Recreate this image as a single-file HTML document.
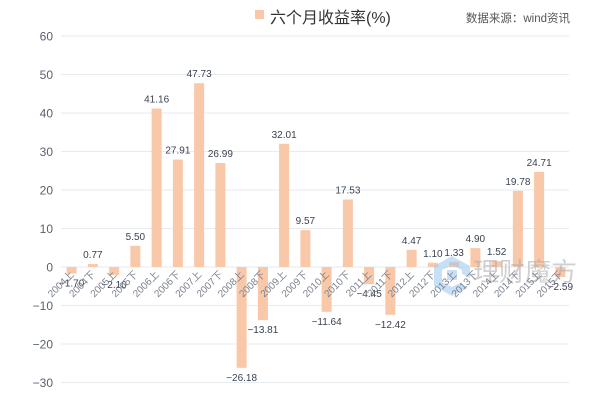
<!DOCTYPE html>
<html><head><meta charset="utf-8"><style>
body{margin:0;background:#fff;}
svg{display:block;font-family:"Liberation Sans","Noto Sans CJK SC",sans-serif;}
</style></head><body>
<svg id="chart" width="600" height="415" viewBox="0 0 600 415">
<g id="grid"></g>
<g id="bars"></g>
<g id="watermark" opacity="0.55">
<path d="M452 256 L470 266 L470 278 L462 274 L462 270 L452 265 L442 270 L442 282 L452 287 L460 283 L468 288 L452 296 L434 286 L434 266 Z" fill="#9cc8f0"/>
<rect x="447" y="270" width="10" height="10" fill="#9cc8f0"/>
<text x="473" y="281" font-size="26" fill="#aaa">理财魔方</text>
</g>
<g id="labels"></g>
<g id="xlabels"></g>
<rect x="255" y="10" width="9" height="9" fill="#f8c8a8"/>
<text x="270" y="23" font-size="16" fill="#333">六个月收益率(%)</text>
<text x="570" y="22" font-size="11.5" fill="#555" text-anchor="end">数据来源：wind资讯</text>
</svg>
<script>
const categories=["2004上","2004下","2005上","2005下","2006上","2006下","2007上","2007下","2008上","2008下","2009上","2009下","2010上","2010下","2011上","2011下","2012上","2012下","2013上","2013下","2014上","2014下","2015上","2015下"];
const values=[-1.70,0.77,-2.10,5.50,41.16,27.91,47.73,26.99,-26.18,-13.81,32.01,9.57,-11.64,17.53,-4.45,-12.42,4.47,1.10,1.33,4.90,1.52,19.78,24.71,-2.59];
const yTicks=[60,50,40,30,20,10,0,-10,-20,-30];
const NS="http://www.w3.org/2000/svg";
const x0=61,x1=571,yTop=36,yMax=60,yMin=-30,yBot=36+90*3.85;
const band=(x1-x0)/categories.length;
function y(v){return yTop+(yMax-v)*(yBot-yTop)/(yMax-yMin);}
function xc(i){return x0+band*(i+0.5);}
function mk(t,a,p){const e=document.createElementNS(NS,t);for(const k in a)e.setAttribute(k,a[k]);p.appendChild(e);return e;}
const grid=document.getElementById('grid');
yTicks.forEach(t=>{
 const l=mk('line',{x1:x0,x2:x1-2,y1:y(t),y2:y(t),stroke:'#e6ebf0','stroke-width':1},grid);
 
 
 const tx=mk('text',{x:53,y:y(t)+4.5,'font-size':12,fill:'#5a6270','text-anchor':'end'},grid);
 tx.textContent=(t<0?'−'+(-t):t);
 
 
});
const bars=document.getElementById('bars'),labels=document.getElementById('labels'),xl=document.getElementById('xlabels');
values.forEach((v,i)=>{
 const cx=xc(i),w=10,top=Math.min(y(v),y(0)),h=Math.abs(y(v)-y(0));
 const r=mk('rect',{x:cx-w/2,y:top,width:w,height:h,fill:'#f8c8a8'},bars);
 
 
 const s=(v<0?'−'+(-v).toFixed(2):v.toFixed(2));
 const t=mk('text',{x:cx,y:v>=0?y(v)-6:y(v)+13,'font-size':10,fill:'#3a4250','text-anchor':'middle'},labels);
 t.textContent=s;
 
 
 const c=mk('text',{x:cx+3,y:y(0)+8,'font-size':10,fill:'#7a828e','text-anchor':'end',transform:`rotate(-45 ${cx+3} ${y(0)+8})`},xl);
 c.textContent=categories[i];
 
 
});
</script>
</body></html>
